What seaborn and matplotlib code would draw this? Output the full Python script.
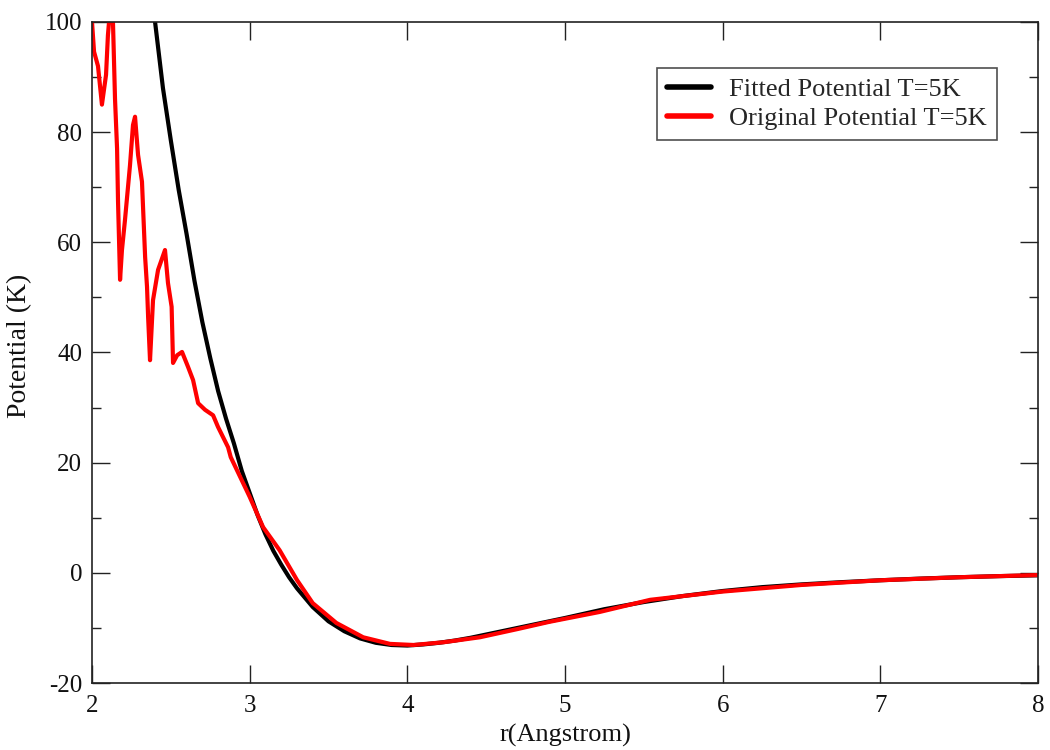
import numpy as np
import pandas as pd
import matplotlib
matplotlib.use("Agg")
import matplotlib.pyplot as plt
import seaborn as sns
from matplotlib.ticker import MultipleLocator

# Fitted potential (black)
fit_r = [2.40, 2.45, 2.50, 2.55, 2.60, 2.65, 2.70, 2.75, 2.80, 2.85, 2.90, 2.95,
         3.00, 3.05, 3.10, 3.15, 3.20, 3.25, 3.30, 3.40, 3.50, 3.60, 3.70, 3.80,
         3.90, 4.00, 4.10, 4.20, 4.30, 4.40, 4.50, 4.60, 4.80, 5.00, 5.25, 5.50,
         5.75, 6.00, 6.25, 6.50, 6.75, 7.00, 7.25, 7.50, 7.75, 8.00]
fit_v = [100, 88, 78.5, 69.5, 61.5, 53, 45.5, 39, 33, 28, 23.5, 18.5,
         14.5, 10.5, 7, 4, 1.5, -0.8, -2.8, -6.2, -8.8, -10.6, -11.9, -12.7,
         -13.1, -13.2, -13.0, -12.7, -12.3, -11.8, -11.2, -10.6, -9.4, -8.2, -6.6, -5.3,
         -4.2, -3.3, -2.6, -2.1, -1.7, -1.35, -1.05, -0.8, -0.6, -0.45]

# Original potential (red)
orig_r = [2.000, 2.013, 2.038, 2.063, 2.089, 2.101, 2.108, 2.133, 2.146, 2.159,
          2.165, 2.178, 2.190, 2.209, 2.241, 2.260, 2.273, 2.292, 2.317, 2.337,
          2.349, 2.356, 2.368, 2.387, 2.419, 2.463, 2.482, 2.505, 2.514, 2.540,
          2.571, 2.609, 2.641, 2.673, 2.717, 2.768, 2.799, 2.863, 2.880, 3.000,
          3.085, 3.190, 3.300, 3.400, 3.550, 3.720, 3.890, 4.040, 4.230, 4.460,
          4.700, 4.900, 5.220, 5.540, 6.000, 6.500, 7.000, 7.500, 8.000]
orig_v = [100, 94.6, 92, 85, 90.4, 97.6, 100, 100, 86, 77,
          67.5, 53.2, 58.6, 64, 74, 81.3, 82.8, 75.9, 71, 57.3,
          51.9, 46.4, 38.6, 49.5, 55, 58.6, 52.6, 48.3, 38.1, 39.5,
          40.1, 37.4, 35, 30.8, 29.6, 28.6, 26.5, 22.8, 21, 13.8,
          8.3, 4.1, -1.3, -5.5, -9.1, -11.7, -12.9, -13.1, -12.6, -11.7,
          -10.2, -8.9, -7.1, -4.9, -3.4, -2.2, -1.35, -0.8, -0.4]

labels = ["Fitted Potential T=5K", "Original Potential T=5K"]
colors = ["black", "red"]

sns.set_theme(style="ticks")
plt.rcParams["font.family"] = ["Liberation Serif", "DejaVu Serif"]
plt.rcParams["axes.unicode_minus"] = False

fig = plt.figure(figsize=(10.5, 7.5), dpi=100)
ax = fig.add_axes([92 / 1050, 1 - 683 / 750, 946 / 1050, 661 / 750])

df_fit = pd.DataFrame({"r": fit_r, "v": fit_v})
df_orig = pd.DataFrame({"r": orig_r, "v": orig_v})
sns.lineplot(data=df_fit, x="r", y="v", color=colors[0], lw=3.0, ax=ax,
             label=labels[0], estimator=None, sort=False)
sns.lineplot(data=df_orig, x="r", y="v", color=colors[1], lw=3.0, ax=ax,
             label=labels[1], estimator=None, sort=False)

ax.set_xlim(2, 8)
ax.set_ylim(-20, 100)
ax.xaxis.set_major_locator(MultipleLocator(1))
ax.yaxis.set_major_locator(MultipleLocator(20))
ax.yaxis.set_minor_locator(MultipleLocator(10))
ax.tick_params(which="both", direction="in", top=True, right=True, width=1.0,
               color="#222222", labelsize=18, labelcolor="#111111")
ax.tick_params(which="major", length=13)
ax.tick_params(axis="x", which="major", pad=9)
ax.tick_params(axis="y", which="major", pad=7)
ax.tick_params(which="minor", length=6.5)
for s in ax.spines.values():
    s.set_linewidth(1.2)
    s.set_color("#222222")

ax.set_xlabel("r(Angstrom)", fontsize=19, color="#111111")
ax.set_ylabel("Potential (K)", fontsize=20, color="#111111")
ax.xaxis.set_label_coords(0.5, -0.062)
ax.yaxis.set_label_coords(-0.063, 0.51)

leg = ax.legend(loc="upper right", bbox_to_anchor=((997 - 92) / 946, (683 - 68) / 661),
                borderaxespad=0, fontsize=19, frameon=True, fancybox=False,
                handlelength=1.67, handletextpad=0.68, borderpad=0.38,
                labelspacing=0.2)
leg.get_frame().set_edgecolor("#222222")
leg.get_frame().set_linewidth(1.2)
for line in leg.get_lines():
    line.set_linewidth(4.0)

fig.savefig("out.png", dpi=100)
